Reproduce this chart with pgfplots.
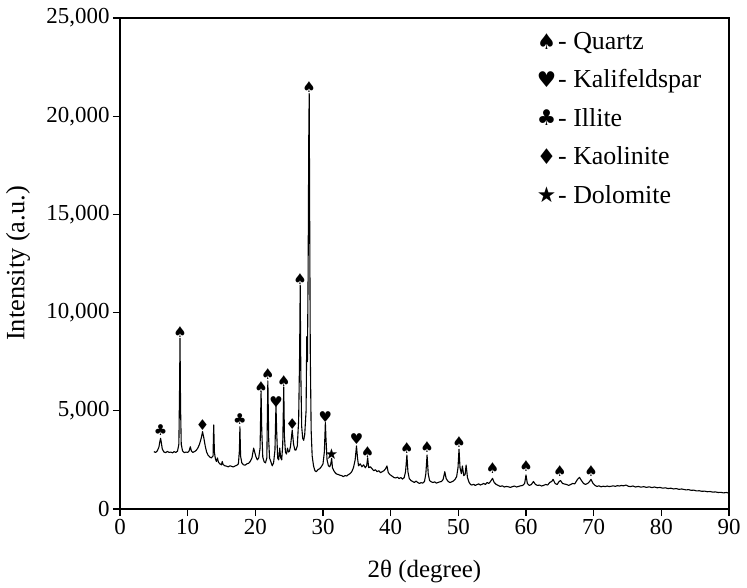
\documentclass[border=0pt]{standalone}
\usepackage{fontspec}
\setmainfont{Liberation Serif}
\newfontfamily\symfont{DejaVu Sans}
\usepackage{pgfplots}
\pgfplotsset{compat=1.18}

% XRD pattern: 2theta (degree) vs. intensity (a.u.)
\pgfplotstableread{
x y
5.00 2920
5.25 2880
5.50 2950
5.75 3150
5.90 3450
6.00 3600
6.10 3400
6.25 3050
6.50 2900
6.75 2870
7.00 2930
7.25 2880
7.50 2900
7.75 2860
8.00 2920
8.25 2880
8.50 2950
8.70 3300
8.80 6000
8.87 8700
8.95 5200
9.05 3300
9.25 2950
9.50 2870
9.75 2900
10.00 2880
10.20 2950
10.40 3170
10.55 2950
10.75 2880
11.00 2920
11.25 2980
11.50 3100
11.75 3300
12.00 3600
12.20 3940
12.40 3600
12.60 3200
12.80 2900
13.00 2750
13.25 2650
13.50 2600
13.75 2700
13.85 4280
13.95 2900
14.10 2550
14.25 2420
14.40 2600
14.55 2380
14.75 2300
15.00 2250
15.10 2420
15.25 2260
15.50 2200
15.75 2180
16.00 2150
16.25 2200
16.50 2170
16.75 2140
17.00 2190
17.25 2220
17.50 2300
17.65 3000
17.72 4190
17.82 2700
18.00 2350
18.25 2250
18.50 2230
18.75 2300
19.00 2330
19.25 2420
19.50 2600
19.75 3100
19.90 2900
20.10 2650
20.30 2500
20.50 2600
20.70 3100
20.85 5970
20.95 4000
21.10 2650
21.30 2400
21.50 2350
21.70 2600
21.85 6520
21.98 3500
22.10 2600
22.30 2400
22.50 2200
22.70 2350
22.90 3000
23.05 5300
23.15 4000
23.30 2600
23.45 2500
23.60 3100
23.75 2600
23.90 2500
24.05 3300
24.20 6210
24.30 3700
24.45 2900
24.60 2800
24.75 3100
24.90 2900
25.05 2950
25.20 3200
25.45 4020
25.65 3300
25.85 3000
26.00 3000
26.20 3200
26.40 4500
26.55 8000
26.63 11400
26.72 7000
26.85 4200
27.00 3600
27.15 3500
27.30 3800
27.50 5000
27.60 8770
27.70 7500
27.80 12000
27.90 19000
27.96 21160
28.03 15000
28.12 8000
28.25 4000
28.40 2700
28.60 2200
28.80 1950
29.00 1900
29.25 2000
29.50 2050
29.75 2150
30.00 2300
30.20 2900
30.35 4400
30.45 3500
30.60 2500
30.80 2200
31.00 2150
31.15 2300
31.28 2580
31.40 2100
31.60 1950
31.80 1850
32.00 1780
32.25 1760
32.50 1720
32.75 1700
33.00 1650
33.25 1700
33.50 1680
33.75 1750
34.00 1800
34.25 1900
34.50 2100
34.75 2500
34.95 3210
35.10 2600
35.25 2200
35.50 2300
35.75 2150
36.00 2250
36.25 2100
36.45 2200
36.60 2610
36.75 2100
37.00 2150
37.25 2050
37.50 1950
37.75 2000
38.00 1900
38.25 1950
38.50 1850
38.75 1900
39.00 1950
39.25 2050
39.45 2190
39.65 1850
39.90 1750
40.10 1700
40.30 1650
40.50 1600
40.75 1580
41.00 1620
41.25 1550
41.50 1600
41.75 1520
42.00 1600
42.20 1900
42.40 2750
42.55 1900
42.75 1550
43.00 1450
43.25 1400
43.50 1350
43.75 1420
44.00 1350
44.25 1300
44.50 1340
44.75 1320
45.00 1400
45.20 1800
45.38 2750
45.55 1800
45.75 1450
46.00 1380
46.25 1350
46.50 1380
46.75 1320
47.00 1350
47.25 1380
47.50 1400
47.75 1500
48.00 1900
48.20 1550
48.50 1400
48.75 1350
49.00 1380
49.25 1420
49.50 1500
49.75 1650
49.95 2100
50.10 3040
50.25 2100
50.45 1800
50.60 2190
50.80 1700
51.00 1750
51.15 2240
51.35 1600
51.60 1350
51.80 1250
52.00 1220
52.25 1260
52.50 1200
52.75 1240
53.00 1280
53.25 1220
53.50 1260
53.75 1300
54.00 1250
54.25 1350
54.50 1300
54.75 1400
55.05 1560
55.30 1350
55.60 1250
55.90 1200
56.20 1150
56.50 1180
56.80 1120
57.10 1150
57.40 1130
57.70 1100
58.00 1140
58.30 1170
58.60 1120
58.90 1150
59.20 1180
59.50 1200
59.80 1300
60.00 1730
60.20 1300
60.50 1200
60.80 1250
61.10 1400
61.40 1250
61.70 1200
62.00 1220
62.30 1170
62.60 1200
62.90 1250
63.20 1220
63.50 1350
63.80 1400
64.00 1510
64.30 1300
64.60 1250
64.90 1400
65.10 1450
65.40 1300
65.70 1270
66.00 1250
66.30 1200
66.60 1250
66.90 1300
67.20 1280
67.60 1500
67.90 1610
68.20 1450
68.50 1300
68.80 1250
69.10 1300
69.40 1400
69.60 1510
69.90 1300
70.20 1200
70.50 1150
70.80 1180
71.10 1130
71.40 1160
71.70 1140
72.00 1170
72.30 1140
72.60 1160
72.90 1180
73.20 1150
73.50 1190
73.80 1170
74.10 1200
74.40 1180
74.80 1220
75.10 1160
75.40 1140
75.80 1170
76.20 1120
76.60 1150
77.00 1110
77.40 1140
77.80 1100
78.20 1130
78.60 1090
79.00 1120
79.40 1080
79.80 1100
80.20 1060
80.60 1080
81.00 1040
81.40 1060
81.80 1020
82.20 1040
82.60 1000
83.00 1020
83.40 990
83.70 970
84.00 990
84.40 950
84.80 960
85.20 920
85.60 930
86.00 900
86.40 910
86.80 880
87.20 890
87.60 860
88.00 870
88.40 840
88.80 850
89.20 820
89.60 840
89.85 820
}\xrd

\begin{document}
\begin{tikzpicture}
\begin{axis}[
  scale only axis,
  width=609bp, height=491bp,
  xmin=0, xmax=90, ymin=0, ymax=25000,
  xtick={0,10,...,90},
  ytick={0,5000,...,25000},
  scaled y ticks=false,
  /pgf/number format/.cd, 1000 sep={,}, assume math mode=true, /pgfplots/.cd,
  tick pos=left,
  tick align=outside,
  major tick length=7bp,
  every tick/.style={black, line width=1.2bp},
  axis line style={line width=1.5bp},
  tick label style={font=\fontsize{23}{23}\selectfont},
  xlabel={2θ (degree)},
  ylabel={Intensity (a.u.)},
  x label style={font=\fontsize{25}{25}\selectfont, at={(axis description cs:0.5,-0.128)}, anchor=center},
  y label style={font=\fontsize{26.5}{26.5}\selectfont, at={(axis description cs:-0.1675,0.5)}, anchor=center, rotate=0},
  legend style={draw=none, fill=none, inner sep=0pt,
    at={(axis description cs:0.684,0.976)}, anchor=north west,
    font=\fontsize{26}{26}\selectfont, row sep=15bp,
    /tikz/every even column/.append style={column sep=3bp}},
  legend cell align=left,
  legend image post style={mark options={scale=1.45}},
]
\addplot[black, line width=1.1bp, line join=round, forget plot] table {\xrd};

% phase markers above the identified reflections
\addplot[only marks, mark=text, text mark={\fontsize{15}{15}\symfont ♠}] coordinates {
  (8.87,9030) (20.85,6230) (21.85,6860) (24.2,6520) (26.63,11710) (27.96,21500)
  (36.6,2920) (42.4,3090) (45.38,3170) (50.1,3430) (55.05,2070) (60.0,2190)
  (65.0,1930) (69.6,1930)};
\addlegendentry{- Quartz}
\addplot[only marks, mark=text, text mark={\fontsize{15}{15}\symfont ♥}] coordinates {
  (23.05,5460) (30.35,4670) (34.95,3550)};
\addlegendentry{- Kalifeldspar}
\addplot[only marks, mark=text, text mark={\fontsize{15}{15}\symfont ♣}] coordinates {
  (6.0,4020) (17.72,4570)};
\addlegendentry{- Illite}
\addplot[only marks, mark=text, text mark={\fontsize{15}{15}\symfont ♦}] coordinates {
  (12.2,4280) (25.45,4310)};
\addlegendentry{- Kaolinite}
\addplot[only marks, mark=text, text mark={\fontsize{15}{15}\symfont ★}] coordinates {
  (31.28,2800)};
\addlegendentry{- Dolomite}
\end{axis}
\pgfresetboundingbox
\path[use as bounding box] ([shift={(-120bp,-79bp)}]current axis.south west)
  rectangle ([shift={(18bp,18bp)}]current axis.north east);
\end{tikzpicture}
\end{document}
